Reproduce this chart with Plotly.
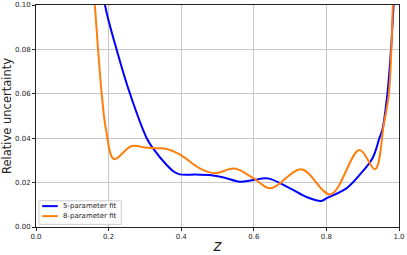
import plotly.graph_objects as go

z_5par = [0.17, 0.19, 0.222, 0.259, 0.305, 0.322, 0.36, 0.38, 0.396, 0.44, 0.478, 0.52, 0.561, 0.60, 0.639,
          0.70, 0.745, 0.786, 0.80, 0.855, 0.891, 0.927, 0.946, 0.954, 0.968, 0.978, 0.985, 0.99]
u_5par = [0.125, 0.100, 0.080, 0.060, 0.040, 0.0355, 0.0279, 0.0249, 0.0237, 0.0236, 0.0234, 0.0222, 0.0204, 0.0212, 0.0219,
          0.0174, 0.0135, 0.0117, 0.0129, 0.0174, 0.0234, 0.031, 0.040, 0.0437, 0.060, 0.080, 0.100, 0.12]

z_8par = [0.155, 0.162, 0.171, 0.181, 0.193, 0.215, 0.263, 0.30, 0.336, 0.36, 0.396, 0.451, 0.492, 0.547, 0.60,
          0.646, 0.731, 0.811, 0.891, 0.934, 0.958, 0.972, 0.979, 0.983, 0.987]
u_8par = [0.12, 0.100, 0.080, 0.060, 0.0437, 0.0306, 0.0365, 0.0358, 0.0355, 0.0351, 0.0327, 0.0264, 0.0242, 0.0263, 0.0219,
          0.0174, 0.026, 0.0147, 0.0347, 0.026, 0.046, 0.060, 0.080, 0.100, 0.12]

x_ticks = [0.0, 0.2, 0.4, 0.6, 0.8, 1.0]
y_ticks = [0.00, 0.02, 0.04, 0.06, 0.08, 0.10]

series = [('5-parameter fit', z_5par, u_5par, '#0000ff'),
          ('8-parameter fit', z_8par, u_8par, '#ff7f0e')]

fig = go.Figure()
for name, zs, us, col in series:
    fig.add_trace(go.Scatter(x=zs, y=us, mode='lines', name=name,
                             line=dict(color=col, width=2, shape='spline', smoothing=1.0)))

axis_style = dict(showgrid=True, gridcolor='#c8c8c8', gridwidth=1, zeroline=False,
                  showline=True, linecolor='#222222', linewidth=1, mirror=True,
                  ticks='outside', ticklen=3, tickwidth=1, tickcolor='#222222', automargin=False,
                  tickfont=dict(family='DejaVu Sans', size=7, color='#222222'))

fig.update_layout(
    width=407, height=255,
    margin=dict(l=36, r=8, t=5, b=28),
    paper_bgcolor='white', plot_bgcolor='white',
    font=dict(family='DejaVu Sans', color='#222222'),
    showlegend=False,
    xaxis=dict(range=[0, 1], tickvals=x_ticks, ticktext=['%.1f' % v for v in x_ticks],
               title=dict(text='<i>z</i>', font=dict(size=15), standoff=2), **axis_style),
    yaxis=dict(range=[0, 0.1], tickvals=y_ticks, ticktext=['%.2f' % v for v in y_ticks],
               title=dict(text='Relative uncertainty', font=dict(size=11.5), standoff=4), **axis_style),
)

# matplotlib-style legend box in the lower left
fig.add_shape(type='rect', xref='paper', yref='paper', x0=0.008, x1=0.235, y0=0.012, y1=0.118,
              line=dict(color='#cccccc', width=1), fillcolor='rgba(255,255,255,0.8)', layer='above')
for i, (name, zs, us, col) in enumerate(series):
    yy = 0.094 - i * 0.045
    fig.add_shape(type='line', xref='paper', yref='paper', x0=0.017, x1=0.06, y0=yy, y1=yy,
                  line=dict(color=col, width=2), layer='above')
    fig.add_annotation(xref='paper', yref='paper', x=0.07, y=yy, text=name, showarrow=False,
                       xanchor='left', yanchor='middle', font=dict(size=7, color='#222222'))

# drop the default page margin so the figure sits at the window's corner
fig.write_html("out.html", config={'displayModeBar': False},
               post_script="document.body.style.margin='0';")
